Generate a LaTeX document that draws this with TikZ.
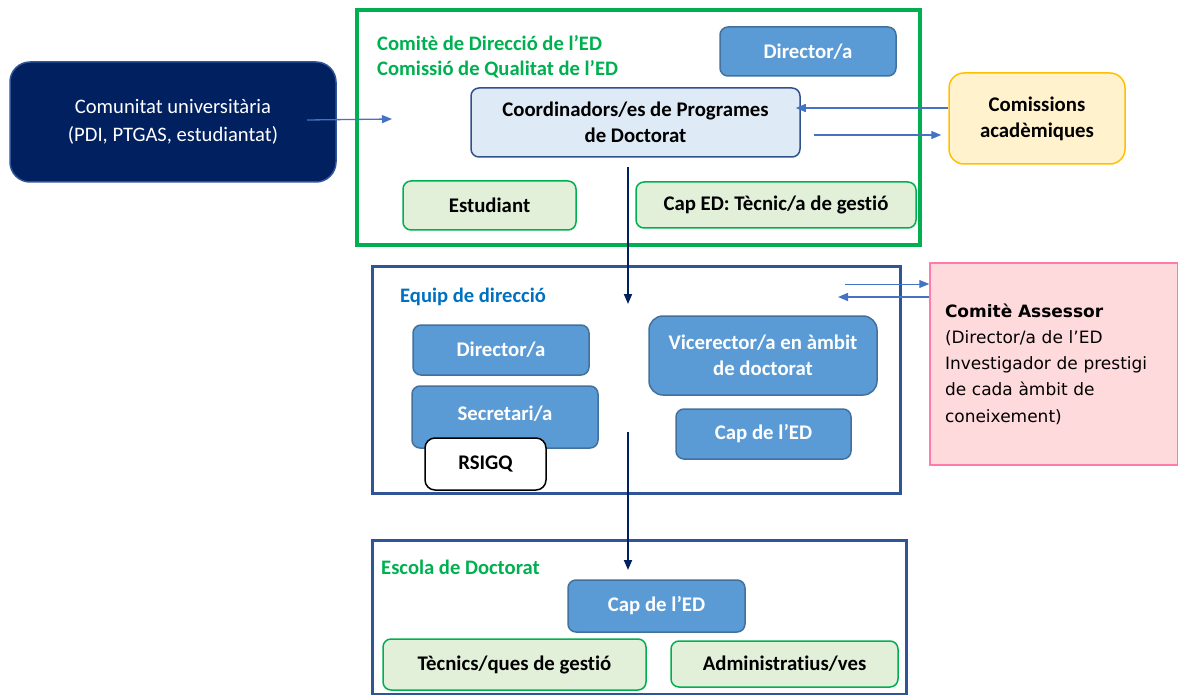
\documentclass[tikz,border=0pt]{standalone}
\usepackage{fontspec}
\setmainfont{Carlito}[Ligatures=CommonOff]
\newfontfamily\verd{DejaVu Sans}
\usetikzlibrary{arrows.meta}
\definecolor{greenC}{HTML}{00B050}
\definecolor{navy}{HTML}{002060}
\definecolor{midblue}{HTML}{5B9BD5}
\definecolor{midborder}{HTML}{41719C}
\definecolor{lightblue}{HTML}{DEEBF7}
\definecolor{darkborder}{HTML}{2F528F}
\definecolor{lightgreen}{HTML}{E2F0D9}
\definecolor{frameblue}{HTML}{2F5597}
\definecolor{yellowF}{HTML}{FFF2CC}
\definecolor{yellowB}{HTML}{FFC000}
\definecolor{pinkF}{HTML}{FFDADC}
\definecolor{pinkB}{HTML}{FF7BAC}
\definecolor{arrblue}{HTML}{4472C4}
\definecolor{equipblue}{HTML}{0070C0}
\tikzset{
  bx/.style={rectangle, rounded corners=8pt, line width=1.5pt, inner sep=0pt, align=center,
    font=\fontsize{20.8}{26}\selectfont\bfseries},
  bluebox/.style={bx, fill=midblue, draw=midborder, text=white},
  greenbox/.style={bx, fill=lightgreen, draw=greenC, text=black},
  frameG/.style={draw=greenC, line width=4pt},
  frameB/.style={draw=frameblue, line width=3pt},
  title/.style={anchor=west, inner sep=0pt, font=\fontsize{20.6}{26}\selectfont\bfseries},
  arr/.style={draw=arrblue, line width=1.3pt, -{Triangle[length=10pt,width=8pt]}},
  navyarr/.style={draw=navy, line width=1.8pt, -{Triangle[length=10pt,width=8pt]}},
}
\begin{document}
\begin{tikzpicture}[x=1pt,y=-1pt]
\useasboundingbox (0,0) rectangle (1178,695);
% frames
\draw[frameG] (357,10) rectangle (920,245);
\draw[frameB] (372,266) rectangle (900,493);
\draw[frameB] (372,540) rectangle (906,694);
% left community box
\node[bx, rounded corners=20pt, fill=navy, draw=frameblue, text=white, font=\fontsize{20.6}{28}\selectfont,
  minimum width=326pt, minimum height=120pt] (cu) at (173,122) {Comunitat universitària\\(PDI, PTGAS, estudiantat)};
% top frame content
\node[title, text=greenC] (t1) at (377,43) {Comitè de Direcció de l’ED};
\node[title, text=greenC] (t2) at (377,69) {Comissió de Qualitat de l’ED};
\node[bluebox, minimum width=176pt, minimum height=49pt] (dir1) at (808,51.5) {Director/a};
\node[bx, fill=lightblue, draw=darkborder, text=black, minimum width=329pt, minimum height=69pt] (coord) at (635.5,122.5) {Coordinadors/es de Programes\\de Doctorat};
\node[greenbox, minimum width=173pt, minimum height=49pt] (est) at (489.5,205.5) {Estudiant};
\node[greenbox, minimum width=280pt, minimum height=46pt] (captec) at (776,205) {Cap ED: Tècnic/a de gestió};
% Comissions
\node[bx, rounded corners=15pt, fill=yellowF, draw=yellowB, text=black, minimum width=176pt, minimum height=91pt] (com) at (1037,118.5) {Comissions\\acadèmiques};
% middle frame
\node[title, text=equipblue] (t3) at (400,297) {Equip de direcció};
\node[bluebox, minimum width=176pt, minimum height=50pt] (dir2) at (501,350) {Director/a};
\node[bluebox, minimum width=186pt, minimum height=62pt] (sec) at (505,417) {\raisebox{7pt}{Secretari/a}};
\node[bx, rounded corners=10pt, fill=white, draw=black, text=black, minimum width=121pt, minimum height=52pt] (rsigq) at (485.5,464) {RSIGQ};
\node[bluebox, rounded corners=14pt, minimum width=228pt, minimum height=79pt] (vice) at (763,355.5) {Vicerector/a en àmbit\\de doctorat};
\node[bluebox, minimum width=175pt, minimum height=50pt] (cap2) at (763.5,434) {Cap de l’ED};
% Comite Assessor
\node[rectangle, fill=pinkF, draw=pinkB, line width=1.5pt, minimum width=248pt, minimum height=202pt,
  inner xsep=15pt, inner ysep=0pt, text width=218pt, align=left, font=\verd\fontsize{17}{26.3}\selectfont] (ass) at (1054,364)
  {\textbf{Comitè Assessor}\\(Director/a de l’ED\\Investigador de prestigi\\de cada àmbit de\\coneixement)};
% bottom frame
\node[title, text=greenC] (t4) at (381,567) {Escola de Doctorat};
\node[bluebox, minimum width=177pt, minimum height=52pt] (cap3) at (656.5,606) {Cap de l’ED};
\node[greenbox, minimum width=263pt, minimum height=51pt] (tec) at (514.5,664.5) {Tècnics/ques de gestió};
\node[greenbox, minimum width=227pt, minimum height=46pt] (adm) at (784.5,664) {Administratius/ves};
% connectors
\coordinate (cuS) at (307,120);
\coordinate (cuE) at (392,119);
\draw[arr] (cuS) -- (cuE);
\draw[arr, shorten >=-5pt] (com.west |- 0,108) -- (coord.east |- 0,108);
\draw[arr, shorten <=13pt, shorten >=7pt] (coord.east |- 0,135) -- (com.west |- 0,135);
\coordinate (d1s) at (628,167);
\coordinate (d1e) at (628,304);
\draw[navyarr] (d1s) -- (d1e);
\coordinate (d2s) at (628,432);
\coordinate (d2e) at (628,570);
\draw[navyarr] (d2s) -- (d2e);
\coordinate (a1) at (845,284);
\coordinate (a2) at (838,297);
\draw[arr, line width=1pt] (a1) -- (ass.west |- a1);
\draw[arr] (ass.west |- a2) -- (a2);
\end{tikzpicture}
\end{document}
